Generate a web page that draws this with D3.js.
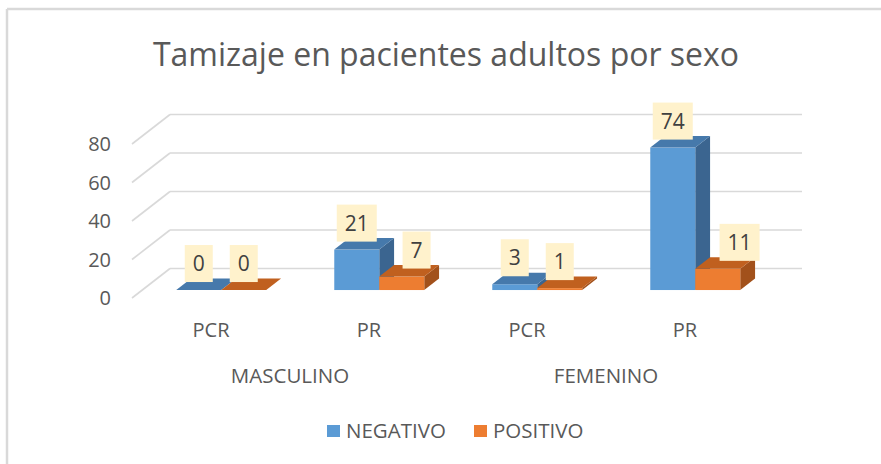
<!DOCTYPE html>
<html><head><meta charset="utf-8">
<script src="https://cdn.jsdelivr.net/npm/d3@7"></script>
<style>body{margin:0;background:#fff}</style></head>
<body><svg id="c" width="881" height="464"></svg>
<script>
const title = "Tamizaje en pacientes adultos por sexo";
const categories = ["PCR", "PR", "PCR", "PR"];
const groups = ["MASCULINO", "FEMENINO"];
const seriesNames = ["NEGATIVO", "POSITIVO"];
const negativo = [0, 21, 3, 74];
const positivo = [0, 7, 1, 11];
const yTicks = [0, 20, 40, 60, 80];

const FONT = "'Open Sans', Lato, sans-serif";
const TXT = "#595959";
const GRID = "#d9d9d9";
const colors = [
  {front: "#5B9BD5", top: "#4679AB", side: "#3B6590"},
  {front: "#ED7D31", top: "#C0601F", side: "#A2511B"}
];
const seriesValues = [negativo, positivo];

const svg = d3.select("#c");
// outer border (top & left visible)
svg.append("line").attr("x1", 7).attr("x2", 881).attr("y1", 9).attr("y2", 9).attr("stroke", GRID).attr("stroke-width", 2.5);
svg.append("line").attr("x1", 7).attr("x2", 7).attr("y1", 9).attr("y2", 464).attr("stroke", GRID).attr("stroke-width", 2.5);

svg.append("text").attr("x", 446).attr("y", 66).attr("text-anchor", "middle")
  .attr("font-family", FONT).attr("font-size", 32).attr("fill", TXT).text(title);

// geometry: front plane and depth
const wallD = [38, -29.5];
const barFront = 0.27, barDepth = 0.39;
const idx = categories.map((d, i) => i);
const x0 = d3.scaleBand().domain(idx).range([132, 764]).paddingInner(0).paddingOuter(0);
const x1 = d3.scaleBand().domain(seriesNames).range([0, x0.bandwidth()]).paddingInner(0).paddingOuter(0.756);
const y = d3.scaleLinear().domain([0, 80]).range([298, 144]);

const g = svg.append("g");
yTicks.forEach(t => {
  const yf = y(t);
  g.append("line").attr("x1", x0.range()[0]).attr("y1", yf)
    .attr("x2", x0.range()[0] + wallD[0]).attr("y2", yf + wallD[1])
    .attr("stroke", GRID).attr("stroke-width", 1.6);
  g.append("line").attr("x1", x0.range()[0] + wallD[0]).attr("y1", yf + wallD[1])
    .attr("x2", x0.range()[1] + wallD[0]).attr("y2", yf + wallD[1])
    .attr("stroke", GRID).attr("stroke-width", 1.6);
});
yTicks.forEach(t => {
  g.append("text").attr("x", 111).attr("y", y(t) + 7).attr("text-anchor", "end")
    .attr("font-family", FONT).attr("font-size", 20).attr("fill", TXT).text(t);
});

const fdx = wallD[0] * barFront, fdy = wallD[1] * barFront;
const ddx = wallD[0] * barDepth, ddy = wallD[1] * barDepth;
const bars = g.append("g");
const pts = a => a.map(p => p.join(",")).join(" ");
idx.forEach(i => {
  seriesNames.forEach((s, si) => {
    const v = seriesValues[si][i];
    const xl = x0(i) + x1(s) + fdx, xr = xl + x1.bandwidth();
    const yb = y(0) + fdy, yt = y(v) + fdy;
    const c = colors[si];
    bars.append("polygon").attr("points", pts([[xr, yb], [xr + ddx, yb + ddy], [xr + ddx, yt + ddy], [xr, yt]])).attr("fill", c.side);
    bars.append("rect").attr("x", xl).attr("y", yt).attr("width", xr - xl).attr("height", yb - yt).attr("fill", c.front);
    bars.append("polygon").attr("points", pts([[xl, yt], [xr, yt], [xr + ddx, yt + ddy], [xl + ddx, yt + ddy]])).attr("fill", c.top);
  });
});

const labels = g.append("g");
idx.forEach(i => {
  seriesNames.forEach((s, si) => {
    const v = seriesValues[si][i];
    let cx = x0(i) + x1(s) + fdx + x1.bandwidth() / 2;
    if (si === 1 && negativo[i] > v + 2) cx += ddx + 7 * (String(v).length - 1);
    const cy = y(v) + fdy + ddy - 15;
    const lg = labels.append("g");
    const rect = lg.append("rect").attr("fill", "#FFF2CC");
    const t = lg.append("text").attr("x", cx).attr("y", cy + 7.5).attr("text-anchor", "middle")
      .attr("font-family", FONT).attr("font-size", 21).attr("fill", "#404040").text(v);
    const w = t.node().getComputedTextLength() + 16;
    rect.attr("x", cx - w / 2).attr("y", cy - 18.5).attr("width", w).attr("height", 37);
  });
});

// category labels on the front plane
idx.forEach(i => {
  g.append("text").attr("x", x0(i) + x0.bandwidth() / 2).attr("y", 337).attr("text-anchor", "middle")
    .attr("font-family", FONT).attr("font-size", 20).attr("fill", TXT).text(categories[i]);
});
groups.forEach((gr, k) => {
  const cx = (x0(2 * k) + x0(2 * k + 1)) / 2 + x0.bandwidth() / 2;
  g.append("text").attr("x", cx).attr("y", 383).attr("text-anchor", "middle")
    .attr("font-family", FONT).attr("font-size", 20.5).attr("fill", TXT).text(gr);
});

// legend
const legX = [327, 474];
seriesNames.forEach((s, si) => {
  svg.append("rect").attr("x", legX[si]).attr("y", 425).attr("width", 13).attr("height", 12).attr("fill", colors[si].front);
  svg.append("text").attr("x", legX[si] + 19).attr("y", 438).attr("font-family", FONT).attr("font-size", 20.5)
    .attr("fill", TXT).text(s);
});
</script></body></html>
